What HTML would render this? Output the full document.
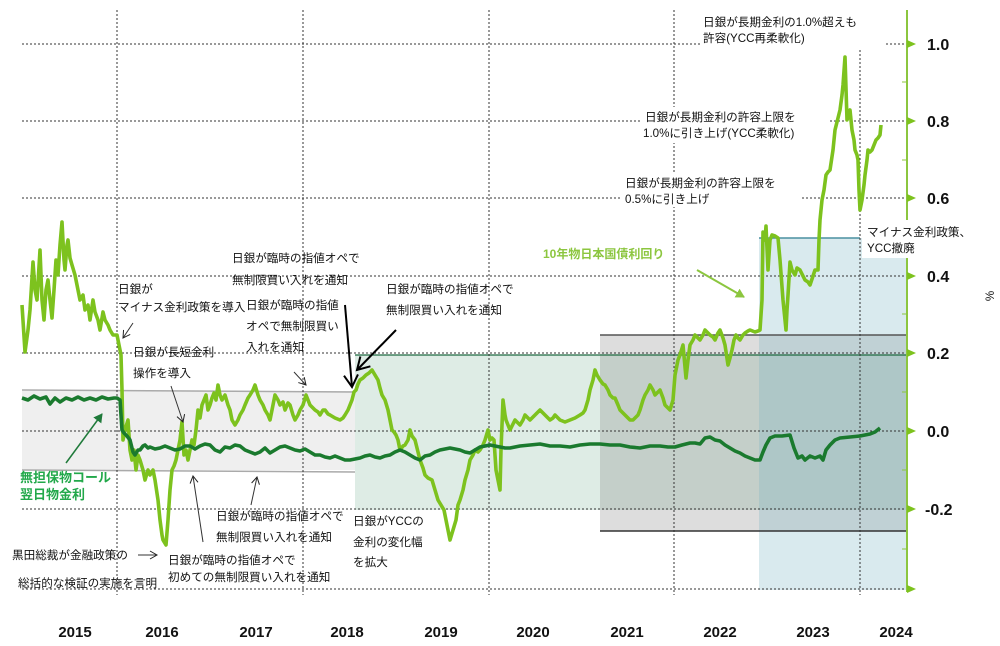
<!DOCTYPE html>
<html><head><meta charset="utf-8"><style>
html,body{margin:0;padding:0;background:#fff;}
svg{display:block;font-family:"Liberation Sans","Noto Sans CJK JP",sans-serif;}
.t{font-size:11.6px;fill:#111;}
.ax{font-size:16px;font-weight:bold;fill:#111;}
.yr{font-size:15px;font-weight:bold;fill:#111;}
</style></head><body>
<svg width="1000" height="646" viewBox="0 0 1000 646">
<defs>
<marker id="ah" markerWidth="10" markerHeight="10" refX="8" refY="5" orient="auto" markerUnits="userSpaceOnUse"><path d="M1,1 L8,5 L1,9" fill="none" stroke="#222" stroke-width="1"/></marker>
<marker id="ahb" markerWidth="16" markerHeight="16" refX="13" refY="8" orient="auto" markerUnits="userSpaceOnUse"><path d="M1,1 L13,8 L1,15" fill="none" stroke="#000" stroke-width="2"/></marker>
<marker id="ahg" markerWidth="10" markerHeight="10" refX="8" refY="5" orient="auto" markerUnits="userSpaceOnUse"><path d="M0,0 L9,5 L0,10z" fill="#1f7a3a"/></marker>
<marker id="ahl" markerWidth="10" markerHeight="10" refX="8" refY="5" orient="auto" markerUnits="userSpaceOnUse"><path d="M0,0 L9,5 L0,10z" fill="#8cc63f"/></marker>
</defs>
<rect x="22" y="391" width="333" height="79" fill="#efefef"/>
<line x1="22" y1="390" x2="355" y2="392" stroke="#aaa" stroke-width="1.5"/>
<line x1="22" y1="470" x2="355" y2="472" stroke="#aaa" stroke-width="1.5"/>
<rect x="355" y="355" width="552" height="155" fill="#deece5"/>
<rect x="600" y="335" width="307" height="196" fill="rgb(120,120,120)" fill-opacity="0.25"/>
<rect x="759" y="238" width="148" height="352" fill="rgb(120,180,195)" fill-opacity="0.28"/>
<line x1="355" y1="355" x2="907" y2="355" stroke="#1d6a40" stroke-width="1.2"/>
<line x1="600" y1="335" x2="907" y2="335" stroke="#555" stroke-width="1.5"/>
<line x1="600" y1="531" x2="907" y2="531" stroke="#333" stroke-width="1.5"/>
<line x1="759" y1="238" x2="860" y2="238" stroke="#4a90a0" stroke-width="1.5"/>
<g stroke="#333" stroke-width="1" stroke-dasharray="2,2" fill="none">
<line x1="22" y1="44" x2="907" y2="44"/>
<line x1="22" y1="121" x2="907" y2="121"/>
<line x1="22" y1="198" x2="907" y2="198"/>
<line x1="22" y1="276" x2="907" y2="276"/>
<line x1="22" y1="353" x2="907" y2="353"/>
<line x1="22" y1="431" x2="907" y2="431"/>
<line x1="22" y1="509" x2="907" y2="509"/>
<line x1="22" y1="589" x2="907" y2="589"/>
<line x1="117" y1="10" x2="117" y2="595"/>
<line x1="303" y1="10" x2="303" y2="595"/>
<line x1="489" y1="10" x2="489" y2="595"/>
<line x1="674" y1="10" x2="674" y2="595"/>
<line x1="860" y1="50" x2="860" y2="595"/>
</g>
<polyline fill="none" stroke="#7dc21e" stroke-width="3.6" stroke-linejoin="round" points="22,305 25,352 28,330 30,310 33,262 35,290 37,300 40,250 42,300 44,320 46,290 48,280 50,300 52,318 54,290 56,260 58,275 60,245 62,222 64,260 65,270 67,245 68,240 70,258 72,265 75,275 78,290 80,300 83,295 85,310 88,305 90,320 93,300 95,312 98,320 100,330 103,312 105,320 108,325 110,330 113,335 117,335 119,345 121,355 122,390 123,440 125,430 128,420 130,450 132,460 134,450 136,470 138,455 140,460 143,470 145,480 148,470 150,475 153,470 155,480 158,500 160,520 162,535 163,540 166,545 168,520 170,490 172,470 174,466 176,460 178,450 180,440 182,422 184,455 186,450 188,460 190,450 192,440 194,445 196,430 198,410 200,418 202,405 204,400 206,395 208,410 210,405 212,398 214,393 216,400 218,385 220,395 222,400 225,395 228,405 230,410 232,420 235,425 238,420 240,415 243,410 245,405 248,398 250,395 253,390 255,385 258,395 260,400 263,405 265,410 268,415 270,420 273,405 275,395 278,400 280,405 283,402 285,410 288,403 290,405 293,415 295,420 298,415 300,410 303,405 306,395 308,400 310,405 313,408 315,410 318,412 320,415 323,410 325,410 328,414 330,415 335,418 340,420 343,418 345,415 348,410 352,400 354,392 356,390 358,384 360,380 363,378 366,375 369,373 372,370 375,375 378,380 380,388 382,395 385,400 388,410 390,420 392,430 394,432 396,435 398,440 400,450 403,446 405,445 408,440 410,430 412,436 415,440 418,452 420,460 423,468 425,475 428,478 432,480 435,490 438,500 441,505 444,510 447,525 450,540 453,530 456,520 458,505 460,500 463,490 465,480 468,470 470,460 473,455 475,450 478,452 480,450 483,445 485,440 488,430 490,440 492,438 494,440 496,470 498,480 500,490 501,450 503,400 505,415 506,420 508,425 510,430 513,424 515,420 518,423 520,425 523,420 525,415 528,418 530,420 535,415 540,410 545,415 550,420 553,418 555,415 558,418 560,420 565,422 570,420 575,418 580,415 583,413 585,410 588,400 590,390 593,380 595,370 597,375 600,380 603,384 605,385 608,390 610,395 613,398 615,398 618,405 620,410 623,413 625,415 628,418 630,420 633,420 635,418 638,415 640,410 643,400 645,395 648,390 650,385 653,390 655,395 658,392 660,390 663,398 665,405 668,408 670,410 673,400 675,375 677,365 678,360 680,355 683,345 686,378 688,360 690,345 693,340 695,335 698,338 700,340 703,335 705,330 708,333 710,335 713,337 715,340 718,333 720,330 723,338 725,345 728,365 730,358 732,350 734,340 736,335 738,338 740,340 743,335 745,333 748,331 750,330 755,332 758,331 760,330 762,300 763,232 765,240 766,226 768,270 769,255 770,240 772,235 775,236 778,238 780,260 783,300 786,330 787,310 788,295 790,262 792,270 795,275 797,268 800,270 803,276 805,280 808,282 810,285 813,276 815,270 818,270 819,240 820,220 822,200 824,190 826,175 828,172 830,170 833,150 835,130 838,118 840,110 842,95 843,85 845,57 847,120 849,115 850,110 852,130 854,140 855,150 857,155 858,160 859,190 860,210 862,200 864,185 865,175 867,160 868,150 870,152 872,150 874,145 876,140 878,138 880,135 881,125"/>
<polyline fill="none" stroke="#1a7a2e" stroke-width="3.6" stroke-linejoin="round" points="22,398 28,400 34,396 40,399 46,397 50,404 55,398 60,402 66,398 72,400 78,397 84,400 90,398 96,400 102,397 108,399 114,398 117,398 120,400 122,430 124,433 127,436 130,440 133,452 135,455 138,450 140,450 143,446 145,445 148,448 150,447 155,449 160,448 165,446 170,448 175,450 180,449 185,446 190,446 195,449 200,446 205,444 210,445 215,450 220,452 225,447 230,448 235,445 240,446 245,450 250,452 255,454 260,452 265,448 270,453 275,450 280,447 285,446 290,448 295,450 300,451 305,449 310,452 315,455 320,455 325,457 330,458 335,456 340,458 345,460 350,460 355,459 360,458 365,456 370,455 375,457 380,458 385,456 390,455 395,452 400,450 405,452 410,455 415,458 420,460 425,456 430,455 435,452 440,450 445,449 450,448 455,449 460,450 465,452 470,453 475,450 480,447 485,446 490,445 495,446 500,447 505,448 510,448 515,447 520,446 530,445 540,444 550,446 560,446 570,447 580,445 590,444 600,444 610,445 620,445 630,447 640,448 650,446 660,446 668,447 675,447 682,445 690,443 695,443 700,444 705,438 710,437 715,440 720,441 725,445 730,448 735,451 740,453 745,456 750,458 755,460 760,460 763,452 766,445 770,438 775,436 782,436 790,435 794,448 798,458 802,456 805,460 810,456 815,458 820,456 823,460 826,450 830,445 835,440 840,438 850,437 860,436 865,435 870,434 875,432 880,428"/>
<line x1="907" y1="10" x2="907" y2="592" stroke="#8cc63f" stroke-width="2"/>
<g fill="#7dc21e">
<path d="M907,40 L916,44 L907,48z"/><path d="M907,117 L916,121 L907,125z"/><path d="M907,194 L916,198 L907,202z"/><path d="M907,272 L916,276 L907,280z"/><path d="M907,349 L916,353 L907,357z"/><path d="M907,427 L916,431 L907,435z"/><path d="M907,505 L916,509 L907,513z"/><path d="M907,585 L916,589 L907,593z"/>
</g>
<g stroke="#8cc63f" stroke-width="1">
<line x1="902" y1="82" x2="907" y2="82"/><line x1="902" y1="160" x2="907" y2="160"/><line x1="902" y1="237" x2="907" y2="237"/><line x1="902" y1="314" x2="907" y2="314"/><line x1="902" y1="392" x2="907" y2="392"/><line x1="902" y1="470" x2="907" y2="470"/><line x1="902" y1="549" x2="907" y2="549"/>
</g>
<g class="ax">
<text x="927" y="50">1.0</text><text x="927" y="127">0.8</text><text x="927" y="204">0.6</text><text x="927" y="282">0.4</text><text x="927" y="359">0.2</text><text x="927" y="437">0.0</text><text x="925" y="515">-0.2</text>
</g>
<text class="t" transform="translate(994,296) rotate(-90)" text-anchor="middle">%</text>
<g class="yr" text-anchor="middle">
<text x="75" y="637">2015</text><text x="162" y="637">2016</text><text x="256" y="637">2017</text><text x="347" y="637">2018</text><text x="441" y="637">2019</text><text x="533" y="637">2020</text><text x="627" y="637">2021</text><text x="720" y="637">2022</text><text x="813" y="637">2023</text><text x="896" y="637">2024</text>
</g>
<rect x="700" y="10" width="185" height="40" fill="#fff"/>
<text class="t" x="703" y="26">日銀が長期金利の1.0%超えも</text>
<text class="t" x="703" y="42">許容(YCC再柔軟化)</text>
<rect x="642" y="107" width="188" height="36" fill="#fff"/>
<text class="t" x="645" y="121">日銀が長期金利の許容上限を</text>
<text class="t" x="643" y="137">1.0%に引き上げ(YCC柔軟化)</text>
<rect x="622" y="173" width="178" height="34" fill="#fff"/>
<text class="t" x="625" y="187">日銀が長期金利の許容上限を</text>
<text class="t" x="625" y="203">0.5%に引き上げ</text>
<rect x="862" y="220" width="138" height="38" fill="#fff"/>
<text class="t" x="867" y="236">マイナス金利政策、</text>
<text class="t" x="867" y="252">YCC撤廃</text>
<text x="543" y="258" style="font-size:12px;fill:#8cc63f;font-weight:bold">10年物日本国債利回り</text>
<line x1="697" y1="270" x2="744" y2="297" stroke="#8cc63f" stroke-width="2" marker-end="url(#ahl)"/>

<text class="t" x="118" y="293">日銀が</text>
<text class="t" x="118" y="311">マイナス金利政策を導入</text>
<line x1="133" y1="323" x2="123" y2="338" stroke="#333" marker-end="url(#ah)"/>
<text class="t" x="133" y="356">日銀が長短金利</text>
<text class="t" x="133" y="377">操作を導入</text>
<line x1="171" y1="386" x2="183" y2="422" stroke="#333" marker-end="url(#ah)"/>
<text class="t" x="232" y="262">日銀が臨時の指値オペで</text>
<text class="t" x="232" y="284">無制限買い入れを通知</text>
<text class="t" x="246" y="309">日銀が臨時の指値</text>
<text class="t" x="246" y="330">オペで無制限買い</text>
<text class="t" x="246" y="351">入れを通知</text>
<line x1="294" y1="372" x2="306" y2="385" stroke="#333" marker-end="url(#ah)"/>
<line x1="345" y1="305" x2="352" y2="387" stroke="#000" stroke-width="2" marker-end="url(#ahb)"/>
<line x1="396" y1="330" x2="357" y2="370" stroke="#000" stroke-width="2" marker-end="url(#ahb)"/>
<text class="t" x="386" y="293">日銀が臨時の指値オペで</text>
<text class="t" x="386" y="314">無制限買い入れを通知</text>

<text x="20" y="482" style="font-size:13px;fill:#22a84a;font-weight:bold">無担保物コール</text>
<text x="20" y="499" style="font-size:13px;fill:#22a84a;font-weight:bold">翌日物金利</text>
<line x1="66" y1="463" x2="102" y2="414" stroke="#1f7a3a" stroke-width="1.5" marker-end="url(#ahg)"/>

<line x1="251" y1="505" x2="257" y2="477" stroke="#333" marker-end="url(#ah)"/>
<text class="t" x="216" y="520">日銀が臨時の指値オペで</text>
<text class="t" x="216" y="541">無制限買い入れを通知</text>
<line x1="203" y1="542" x2="193" y2="476" stroke="#333" marker-end="url(#ah)"/>
<text class="t" x="168" y="564">日銀が臨時の指値オペで</text>
<text class="t" x="168" y="581">初めての無制限買い入れを通知</text>
<text class="t" x="12" y="559">黒田総裁が金融政策の</text>
<line x1="138" y1="555" x2="157" y2="555" stroke="#333" marker-end="url(#ah)"/>
<text class="t" x="18" y="587">総括的な検証の実施を言明</text>
<text class="t" x="353" y="525">日銀がYCCの</text>
<text class="t" x="353" y="546">金利の変化幅</text>
<text class="t" x="353" y="566">を拡大</text>
</svg>
</body></html>
